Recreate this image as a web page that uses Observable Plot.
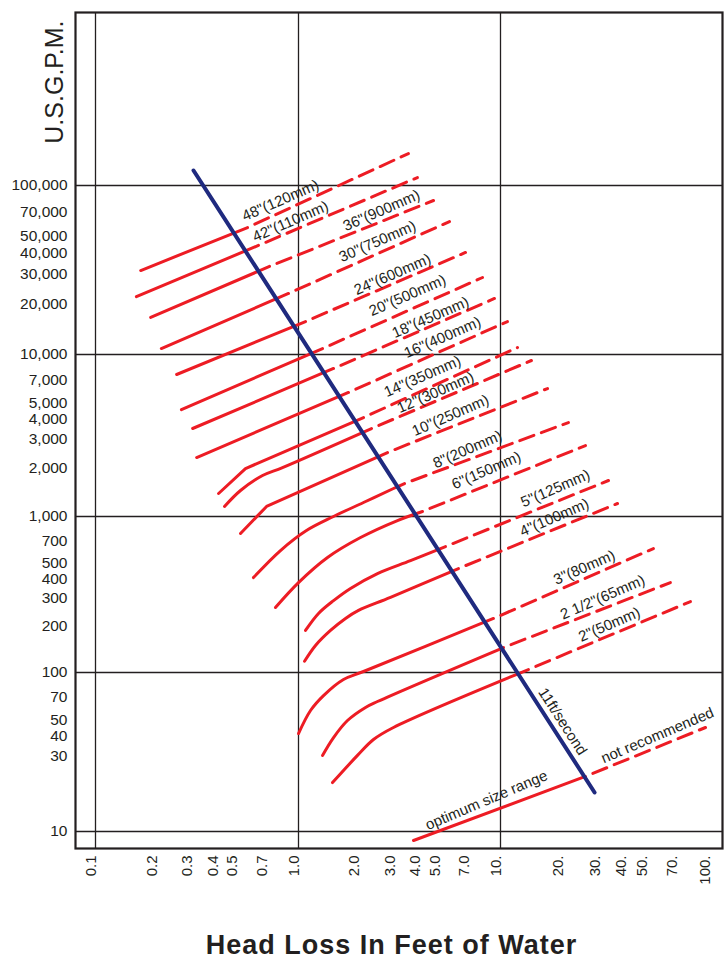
<!DOCTYPE html>
<html>
<head>
<meta charset="utf-8">
<script src="https://cdn.jsdelivr.net/npm/d3@7"></script>
<script src="https://cdn.jsdelivr.net/npm/@observablehq/plot@0.6"></script>
<style>
  html, body { margin: 0; padding: 0; background: #fff; }
  #chart svg { display: block; }
  #title { box-sizing: border-box; width: 727px; padding-left: 56px; height: 40px; line-height: 40px; text-align: center;
    font-family: "Liberation Sans", Arial, sans-serif; font-weight: bold; font-size: 27px;
    letter-spacing: 1px; color: #231f20; }
</style>
</head>
<body>
<div id="chart"></div>
<div id="title">Head Loss In Feet of Water</div>
<script>
// ---- data (head loss in feet of water, U.S. GPM) ----
const pipeSizes = ['48"(120mm)','42"(110mm)','36"(900mm)','30"(750mm)','24"(600mm)','20"(500mm)','18"(450mm)','16"(400mm)','14"(350mm)','12"(300mm)','10"(250mm)','8"(200mm)','6"(150mm)','5"(125mm)','4"(100mm)','3"(80mm)','2 1/2"(65mm)','2"(50mm)'];
// sizes whose curve has a sharp bend rather than a smooth one
const sharpBendSizes = ['14"(350mm)', '10"(250mm)'];

const solidHeadLoss = [
  [0.167, 0.561],
  [0.159, 0.635],
  [0.187, 0.720],
  [0.211, 0.893],
  [0.251, 1.083],
  [0.265, 1.315],
  [0.301, 1.491],
  [0.315, 1.768],
  [0.404, 0.548, 2.098],
  [0.432, 0.518, 0.665, 0.834, 2.298],
  [0.518, 0.696, 2.758],
  [0.600, 0.815, 1.095, 1.491, 2.098, 2.952, 3.348],
  [0.770, 1.0, 1.392, 2.028, 3.090, 4.111],
  [1.083, 1.256, 1.491, 1.809, 2.460, 3.585, 5.343],
  [1.071, 1.214, 1.440, 1.709, 1.982, 2.854, 6.194],
  [1.0, 1.147, 1.330, 1.670, 2.098, 9.23],
  [1.315, 1.491, 1.748, 2.147, 2.460, 10.34],
  [1.474, 1.959, 2.351, 2.952, 13.6]
];
const solidGpm = [
  [31400, 56400],
  [22000, 44200],
  [16560, 33200],
  [10850, 22960],
  [7525, 15670],
  [4571, 10850],
  [3493, 8198],
  [2313, 5828],
  [1387, 1977, 4083],
  [1153, 1447, 1791, 2006, 3493],
  [778, 1153, 2483],
  [406, 605, 813, 1000, 1220, 1489, 1598],
  [261, 377, 546, 733, 942, 1074],
  [186, 239, 289, 346, 431, 522, 642],
  [118, 149, 186, 222, 250, 303, 464],
  [41.3, 57.7, 71.6, 90.4, 101.5, 222],
  [30.1, 39.0, 49.9, 60.3, 65.7, 144.6],
  [20.3, 30.1, 37.9, 45.1, 104.5]
];
const dashEndHeadLoss = [3.50, 3.88, 4.66, 5.59, 6.71, 8.15, 9.34, 10.8, 12.06, 14.06, 16.79, 21.13, 25.5, 32.86, 36.3, 53.9, 65.0, 81.1];
const dashEndGpm = [154600, 111500, 81500, 61200, 40150, 28550, 21450, 15670, 11000, 9183, 6166, 3802, 2742, 1668, 1203, 623, 377, 285];

const labelHeadLoss = [0.815, 0.913, 2.576, 2.460, 2.918, 3.464, 4.503, 5.164, 4.111, 4.77, 5.655, 6.865, 8.52, 18.3, 18.1, 25.2, 30.8, 33.2];
const labelGpm = [81500, 61200, 71100, 46640, 29730, 22340, 16560, 12600, 7313, 5828, 4203, 2592, 1923, 1489, 985, 471, 303, 203];

// 11 ft/second velocity line
const velocityHeadLoss = [0.304, 28.2];
const velocityGpm = [122700, 17.6];
const velocityLabel = {text: "11ft/second", headLoss: 19.8, gpm: 49.2};

// legend line: optimum size range (solid) / not recommended (dashed)
const legendSolidHeadLoss = [3.71, 25.5];
const legendSolidGpm = [8.78, 22.2];
const legendDashEnd = [95.7, 45.1];
const legendTexts = ["optimum size range", "not recommended"];
const legendTextHeadLoss = [8.52, 56.4];
const legendTextGpm = [15.7, 40.2];

// axes
const xTickValues = [0.1, 0.2, 0.3, 0.4, 0.5, 0.7, 1, 2, 3, 4, 5, 7, 10, 20, 30, 40, 50, 70, 100];
const xTickLabels = ["0.1","0.2","0.3","0.4","0.5","0.7","1.0","2.0","3.0","4.0","5.0","7.0","10.","20.","30.","40.","50.","70.","100."];
const yTickValues = [100000, 70000, 50000, 40000, 30000, 20000, 10000, 7000, 5000, 4000, 3000, 2000, 1000, 700, 500, 400, 300, 200, 100, 70, 50, 40, 30, 10];
const xGrid = [0.1, 1, 10];
const yGrid = [10, 100, 1000, 10000, 100000];

// ---- build tables ----
const solidRows = [];
const dashRows = [];
pipeSizes.forEach((s, i) => {
  solidHeadLoss[i].forEach((h, j) => solidRows.push({size: s, h, q: solidGpm[i][j]}));
  const n = solidHeadLoss[i].length - 1;
  dashRows.push({size: s, h: solidHeadLoss[i][n], q: solidGpm[i][n]});
  dashRows.push({size: s, h: dashEndHeadLoss[i], q: dashEndGpm[i]});
});
const smoothRows = solidRows.filter(d => !sharpBendSizes.includes(d.size));
const sharpRows = solidRows.filter(d => sharpBendSizes.includes(d.size));
const legendSolidRows = legendSolidHeadLoss.map((h, j) => ({h, q: legendSolidGpm[j]}));
const legendDashRows = [legendSolidRows[legendSolidRows.length - 1], {h: legendDashEnd[0], q: legendDashEnd[1]}];
const velocityRows = velocityHeadLoss.map((h, j) => ({h, q: velocityGpm[j]}));
const labelRows = pipeSizes.map((s, i) => ({text: s, h: labelHeadLoss[i], q: labelGpm[i]}));

const RED = "#ed1c24";
const BLUE = "#1f2a7f";
const INK = "#231f20";
const yFormat = d3.format(",");

const chart = Plot.plot({
  width: 727,
  height: 925,
  marginLeft: 75,
  marginRight: 5,
  marginTop: 12,
  marginBottom: 77,
  style: {fontFamily: "'Liberation Sans', Arial, sans-serif", fontSize: "15px", color: INK, background: "#fff"},
  x: {
    type: "log",
    domain: [0.0797, 0.1, 1, 10, 100, 115.4],
    range: [75, 95, 298, 500, 709, 722],
    axis: null
  },
  y: {
    type: "log",
    domain: [7.82, 10, 100, 1000, 10000, 100000, 1057000],
    range: [848, 831, 672, 516, 354, 185, 12],
    axis: null
  },
  marks: [
    Plot.ruleX(xGrid, {stroke: INK, strokeWidth: 1.3}),
    Plot.ruleY(yGrid, {stroke: INK, strokeWidth: 1.3}),
    Plot.frame({stroke: INK, strokeWidth: 2.2}),
    // tick labels
    Plot.text(xTickValues, {x: d => d, text: (d, i) => xTickLabels[i], frameAnchor: "bottom", rotate: -90, textAnchor: "end", dy: 7, fontSize: 15, fill: INK}),
    Plot.text(yTickValues, {y: d => d, text: d => yFormat(d), frameAnchor: "left", textAnchor: "end", dx: -8, fontSize: 15.5, fill: INK}),
    // pipe lines
    Plot.line(smoothRows, {x: "h", y: "q", z: "size", stroke: RED, strokeWidth: 3, curve: "catmull-rom"}),
    Plot.line(sharpRows, {x: "h", y: "q", z: "size", stroke: RED, strokeWidth: 3, strokeLinejoin: "miter"}),
    Plot.line(dashRows, {x: "h", y: "q", z: "size", stroke: RED, strokeWidth: 3, strokeDasharray: "15,8", strokeDashoffset: 15}),
    Plot.line(legendSolidRows, {x: "h", y: "q", stroke: RED, strokeWidth: 3}),
    Plot.line(legendDashRows, {x: "h", y: "q", stroke: RED, strokeWidth: 3, strokeDasharray: "15,8", strokeDashoffset: 15}),
    Plot.line(velocityRows, {x: "h", y: "q", stroke: BLUE, strokeWidth: 4}),
    // annotations
    Plot.text(labelRows, {x: "h", y: "q", text: "text", rotate: -23.5, fontSize: 15, fill: INK}),
    Plot.text([velocityLabel], {x: "headLoss", y: "gpm", text: "text", rotate: 57.2, fontSize: 15, fill: INK}),
    Plot.text(legendTexts, {x: (d, i) => legendTextHeadLoss[i], y: (d, i) => legendTextGpm[i], text: d => d, rotate: -23, fontSize: 15, fill: INK}),
    Plot.text(["U.S.G.P.M."], {frameAnchor: "top-left", text: d => d, rotate: -90, textAnchor: "end", dx: -30, dy: 8, fontSize: 25, fill: INK})
  ]
});
document.getElementById("chart").appendChild(chart);
</script>
</body>
</html>
